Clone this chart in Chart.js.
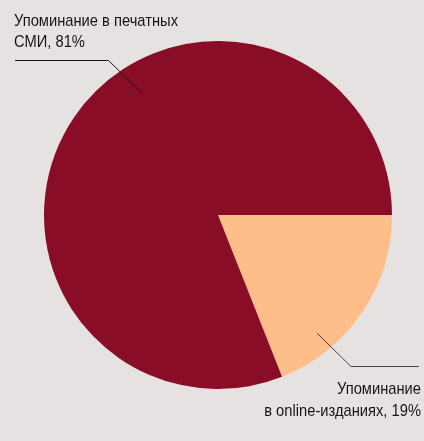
<!DOCTYPE html>
<html><head><meta charset="utf-8">
<script src="https://cdn.jsdelivr.net/npm/chart.js@4/dist/chart.umd.min.js"></script>
<style>
html,body{margin:0;padding:0;background:#E7E2E2;}
#wrap{width:424px;height:441px;position:relative;}
</style></head>
<body><div id="wrap"><canvas id="c" width="424" height="441"></canvas></div>
<script>
const categories = ["Упоминание в online-изданиях", "Упоминание в печатных СМИ"];
const values = [19, 81];
const colors = ["#FDBE8A", "#8A0D28"];
const labelLines = [["Упоминание", "в online-изданиях, 19%"], ["Упоминание в печатных", "СМИ, 81%"]];

const FONT = '17px "Liberation Sans", Arial, sans-serif';

function narrowText(ctx, text, x, y, align, sx) {
  const w = ctx.measureText(text).width * sx;
  const left = align === 'right' ? x - w : x;
  ctx.save();
  ctx.translate(left, y);
  ctx.scale(sx, 1);
  ctx.textAlign = 'left';
  ctx.fillText(text, 0, 0);
  ctx.restore();
}

const labelPlugin = {
  id: 'labels',
  afterDraw(chart) {
    const ctx = chart.ctx;
    const arcs = chart.getDatasetMeta(0).data;
    const cx = arcs[0].x, cy = arcs[0].y, r = arcs[0].outerRadius;
    ctx.save();
    ctx.lineWidth = 1;
    ctx.font = FONT;
    ctx.fillStyle = '#161616';
    ctx.textBaseline = 'alphabetic';
    const sx = 164 / ctx.measureText(labelLines[1][0]).width;
    // printed media label (top-left)
    const a1 = {x: cx - 0.43 * r, y: cy - 0.695 * r};
    ctx.strokeStyle = '#1a1a1a';
    ctx.beginPath();
    ctx.moveTo(a1.x, a1.y);
    ctx.lineTo(108.5, 60.5);
    ctx.lineTo(15, 60.5);
    ctx.stroke();
    narrowText(ctx, labelLines[1][0], 14, 26, 'left', sx);
    narrowText(ctx, labelLines[1][1], 14, 47, 'left', sx);
    // online label (bottom-right)
    const a0 = {x: cx + 0.57 * r, y: cy + 0.68 * r};
    ctx.beginPath();
    ctx.moveTo(a0.x, a0.y);
    ctx.lineTo(351, 366.5);
    ctx.lineTo(419, 366.5);
    ctx.strokeStyle = '#444';
    ctx.stroke();
    narrowText(ctx, labelLines[0][0], 421, 394, 'right', sx);
    narrowText(ctx, labelLines[0][1], 421, 415.5, 'right', sx);
    ctx.restore();
  }
};

new Chart(document.getElementById('c'), {
  type: 'pie',
  data: {
    labels: categories,
    datasets: [{ data: values, backgroundColor: colors, borderWidth: 0, hoverOffset: 0 }]
  },
  options: {
    responsive: false,
    animation: false,
    rotation: 90,
    layout: { padding: { left: 44, right: 32, top: 41, bottom: 52 } },
    plugins: { legend: { display: false }, tooltip: { enabled: false } },
    events: []
  },
  plugins: [labelPlugin]
});
</script></body></html>
